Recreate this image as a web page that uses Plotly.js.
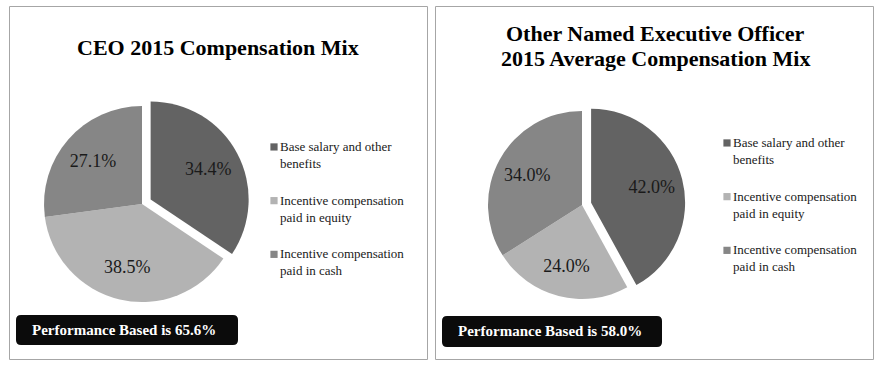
<!DOCTYPE html>
<html>
<head>
<meta charset="utf-8">
<script src="https://cdn.plot.ly/plotly-3.0.1.min.js"></script>
<style>
html,body{margin:0;padding:0;background:#fff;}
#wrap{position:relative;width:880px;height:367px;}
#ceo{position:absolute;left:0;top:0;width:432px;height:367px;}
#neo{position:absolute;left:432px;top:0;width:448px;height:367px;}
</style>
</head>
<body>
<div id="wrap"><div id="ceo"></div><div id="neo"></div></div>
<script>
// ---- data ----
var categories = ["Base salary and other benefits", "Incentive compensation paid in equity", "Incentive compensation paid in cash"];
var legendLines = [["Base salary and other", "benefits"], ["Incentive compensation", "paid in equity"], ["Incentive compensation", "paid in cash"]];
var ceoValues = [34.4, 38.5, 27.1];
var neoValues = [42.0, 24.0, 34.0];
var sliceColors = ["#636363", "#b3b3b3", "#868686"];
var ceoTitleLines = ["CEO 2015 Compensation Mix"];
var neoTitleLines = ["Other Named Executive Officer", "2015 Average Compensation Mix"];
var ceoNote = "Performance Based is 65.6%";
var neoNote = "Performance Based is 58.0%";
var pulls = [0.1, 0, 0];

var H = 367;
var serif = "Liberation Serif";
var legendLabels = legendLines.map(function(l){ return l.join("<br>") + "<br> "; });

function buildPanel(divId, offX, W, values, cfg){
  function px(x){ return (x - offX) / W; }
  function py(y){ return 1 - y / H; }
  function roundRect(x0, y0, x1, y1, r){
    var rx = r / W, ry = r / H;
    var a = px(x0), b = px(x1), t = py(y0), btm = py(y1);
    return "M" + (a+rx) + "," + t + " L" + (b-rx) + "," + t +
      " Q" + b + "," + t + " " + b + "," + (t-ry) +
      " L" + b + "," + (btm+ry) +
      " Q" + b + "," + btm + " " + (b-rx) + "," + btm +
      " L" + (a+rx) + "," + btm +
      " Q" + a + "," + btm + " " + a + "," + (btm+ry) +
      " L" + a + "," + (t-ry) +
      " Q" + a + "," + t + " " + (a+rx) + "," + t + " Z";
  }
  var c = cfg.pie; // [cx, cy, side]
  var dom = {x: [px(c[0] - c[2]/2), px(c[0] + c[2]/2)], y: [py(c[1] + c[2]/2), py(c[1] - c[2]/2)]};
  var pie = {
    type: "pie", labels: legendLabels, values: values, sort: false,
    direction: "clockwise", rotation: 0, pull: pulls,
    marker: {colors: sliceColors, line: {width: 0}},
    textinfo: "none", hoverinfo: "label+percent", domain: dom
  };
  // transparent ring overlay carrying the percentage labels
  var lbl = {
    type: "pie", labels: legendLabels, values: values, sort: false,
    direction: "clockwise", rotation: 0, pull: pulls, hole: 0.33, showlegend: false,
    marker: {colors: ["rgba(0,0,0,0)", "rgba(0,0,0,0)", "rgba(0,0,0,0)"], line: {width: 0}},
    texttemplate: "%{value:.1f}%", textposition: "inside", insidetextorientation: "horizontal",
    textfont: {family: serif, size: 18, color: "#1a1a1a"}, hoverinfo: "skip", domain: dom
  };
  var ann = cfg.titleLines.map(function(t, i){
    return {xref: "paper", yref: "paper", x: px(cfg.titleX), y: py(cfg.titleY[i]), text: "<b>" + t + "</b>",
      showarrow: false, xanchor: "center", yanchor: "middle", font: {family: serif, size: 22, color: "#000"}};
  });
  ann.push({xref: "paper", yref: "paper", x: px(cfg.noteX), y: py(cfg.noteY), text: "<b>" + cfg.note + "</b>",
    showarrow: false, xanchor: "center", yanchor: "middle", font: {family: serif, size: 15, color: "#fff"}});
  var b = cfg.border, nb = cfg.noteBox;
  var layout = {
    width: W, height: H, margin: {l: 0, r: 0, t: 0, b: 0}, paper_bgcolor: "#ffffff",
    showlegend: true,
    legend: {x: px(cfg.legendX), y: py(cfg.legendY), xanchor: "left", yanchor: "top",
      font: {family: serif, size: 13, color: "#1a1a1a"}, valign: "top", bgcolor: "rgba(0,0,0,0)", traceorder: "normal"},
    shapes: [
      {type: "rect", xref: "paper", yref: "paper", x0: px(b[0]), x1: px(b[2]), y0: py(b[1]), y1: py(b[3]), line: {color: "#a6a6a6", width: 1}, layer: "below"},
      {type: "path", xref: "paper", yref: "paper", path: roundRect(nb[0], nb[1], nb[2], nb[3], 5), fillcolor: "#0b0b0b", line: {width: 0}}
    ],
    annotations: ann
  };
  return Plotly.newPlot(divId, [pie, lbl], layout, {displayModeBar: false, staticPlot: true}).then(function(gd){
    gd.querySelectorAll("g.legendpoints path.legendpie").forEach(function(p){
      p.setAttribute("transform", "translate(34,1) scale(0.6)");
    });
  });
}

buildPanel("ceo", 0, 432, ceoValues, {
  pie: [142, 204, 215.6], titleLines: ceoTitleLines, titleX: 218, titleY: [47],
  note: ceoNote, noteX: 124, noteY: 330, noteBox: [16, 315, 238, 345],
  border: [9.5, 6.5, 427.5, 359.5], legendX: 240, legendY: 131
});
buildPanel("neo", 432, 448, neoValues, {
  pie: [582, 205, 206.8], titleLines: neoTitleLines, titleX: 655, titleY: [33, 58],
  note: neoNote, noteX: 550, noteY: 331, noteBox: [442, 316, 662, 347],
  border: [435.5, 6.5, 873.5, 359.5], legendX: 693, legendY: 127
});
</script>
</body>
</html>
